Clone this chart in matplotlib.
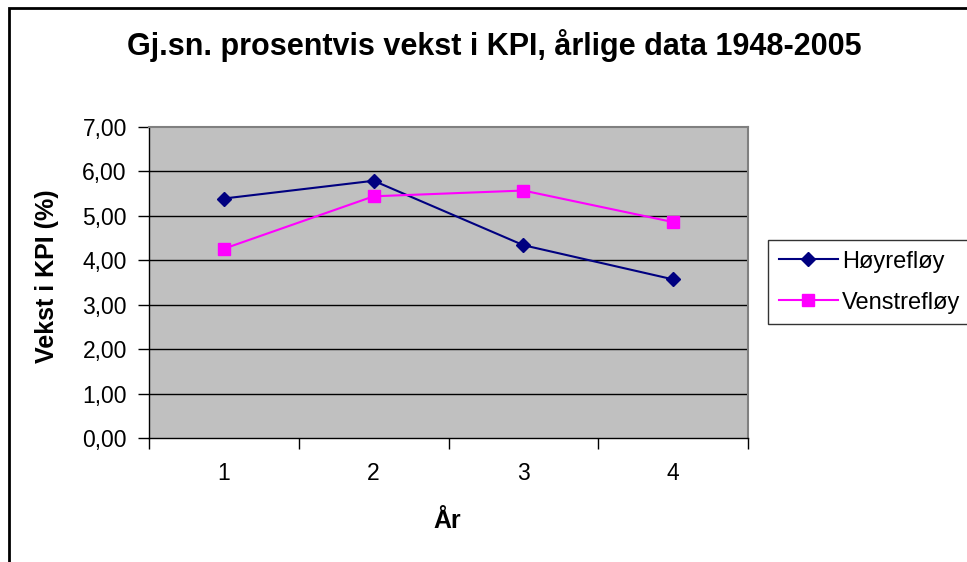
import matplotlib
matplotlib.use("Agg")
import matplotlib.pyplot as plt
from matplotlib.patches import Rectangle
from matplotlib.ticker import FixedLocator, FuncFormatter

categories = [1, 2, 3, 4]
hoyre = [5.39, 5.79, 4.34, 3.57]
venstre = [4.26, 5.44, 5.57, 4.86]
yticks = [0, 1, 2, 3, 4, 5, 6, 7]

plt.rcParams['font.family'] = ['Liberation Sans', 'DejaVu Sans']

W, H = 967, 562
fig = plt.figure(figsize=(W / 100, H / 100), dpi=100)
fig.patch.set_facecolor('white')

# outer chart-area border (extends past right/bottom edges)
fig.patches.append(Rectangle((9 / W, -0.05), 1.1, 1 - 8 / H + 0.05,
                             transform=fig.transFigure, fill=False,
                             edgecolor='black', linewidth=2.0))

ax = fig.add_axes([149 / W, 1 - 438 / H, (748 - 149) / W, (438 - 127) / H])
ax.set_facecolor('#C0C0C0')

ax.plot(categories, hoyre, color='#000080', marker='D', markersize=7,
        linewidth=1.5, label='Høyrefløy', zorder=3, clip_on=False)
ax.plot(categories, venstre, color='#FF00FF', marker='s', markersize=9,
        linewidth=1.5, label='Venstrefløy', zorder=3, clip_on=False)

ax.set_xlim(0.5, 4.5)
ax.set_ylim(0, 7)
ax.set_yticks(yticks)
ax.yaxis.set_major_formatter(FuncFormatter(lambda v, p: f"{v:.2f}".replace('.', ',')))
for y in yticks[1:-1]:
    ax.axhline(y, color='black', linewidth=1.0, zorder=1)

ax.xaxis.set_major_locator(FixedLocator([0.5, 1.5, 2.5, 3.5, 4.5]))
ax.xaxis.set_major_formatter(FuncFormatter(lambda v, p: ''))
ax.xaxis.set_minor_locator(FixedLocator(categories))
ax.xaxis.set_minor_formatter(FuncFormatter(lambda v, p: f"{int(round(v))}"))
ax.tick_params(axis='x', which='major', direction='out', length=8, width=1, color='black')
ax.tick_params(axis='x', which='minor', length=0, pad=17, labelsize=16.5)
ax.tick_params(axis='y', direction='out', length=8, width=1, labelsize=16.5, pad=8)

for s in ['top', 'right']:
    ax.spines[s].set_color('#808080')
    ax.spines[s].set_linewidth(1.5)
for s in ['left', 'bottom']:
    ax.spines[s].set_color('black')
    ax.spines[s].set_linewidth(1.0)

fig.text(494 / W, 1 - 45 / H, 'Gj.sn. prosentvis vekst i KPI, årlige data 1948-2005',
         ha='center', va='center', fontsize=22, fontweight='bold')
fig.text(47 / W, 1 - 276 / H, 'Vekst i KPI (%)', ha='center', va='center',
         rotation=90, fontsize=18, fontweight='bold')
fig.text(447 / W, 1 - 521 / H, 'År', ha='center', va='center',
         fontsize=18, fontweight='bold')

leg = fig.legend(loc='upper left', bbox_to_anchor=(768 / W, 1 - 240 / H),
                 frameon=True, fancybox=False, fontsize=17, handlelength=2.5,
                 handletextpad=0.2, borderpad=0.45, labelspacing=0.8,
                 borderaxespad=0)
leg.get_frame().set_edgecolor('black')
leg.get_frame().set_linewidth(1.0)

fig.savefig('out.png', dpi=100, facecolor='white')
